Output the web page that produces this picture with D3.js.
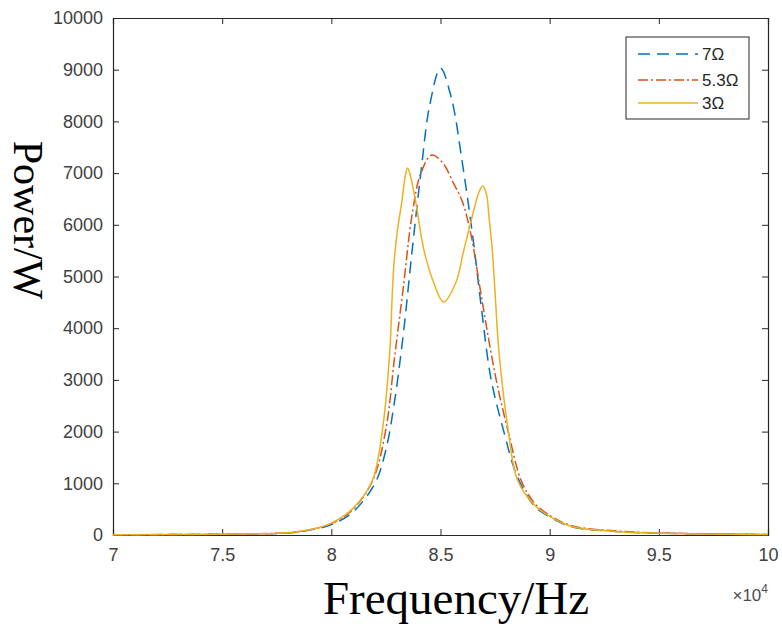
<!DOCTYPE html>
<html>
<head>
<meta charset="utf-8">
<script src="https://cdn.jsdelivr.net/npm/d3@7"></script>
<style>
  body { margin: 0; background: #fff; }
  .tick text { font-family: Arial, "Liberation Sans", sans-serif; font-size: 18px; fill: #404040; }
</style>
</head>
<body>
<div id="chart"></div>
<script>
// frequency (x10^4 Hz) and power (W)
const freq7 = [7.0, 7.5, 7.8, 7.9, 8.0, 8.1, 8.2, 8.25, 8.29, 8.33, 8.37, 8.41, 8.45, 8.5, 8.55, 8.6, 8.65, 8.69, 8.73, 8.79, 8.85, 8.93, 9.0, 9.1, 9.3, 9.5, 10.0];
const power7 = [5, 15, 40, 95, 200, 450, 1000, 1650, 2600, 3900, 5500, 7000, 8300, 9030, 8450, 7200, 5700, 4300, 3050, 2000, 1150, 560, 350, 160, 70, 35, 10];

const freq53 = [7.0, 7.5, 7.8, 7.9, 8.0, 8.1, 8.19, 8.25, 8.29, 8.33, 8.37, 8.41, 8.46, 8.51, 8.56, 8.6, 8.64, 8.68, 8.72, 8.76, 8.81, 8.87, 8.93, 9.0, 9.1, 9.3, 9.5, 10.0];
const power53 = [5, 15, 45, 100, 220, 500, 1060, 2050, 3450, 4800, 6200, 7000, 7350, 7200, 6800, 6450, 5800, 4800, 3800, 2900, 2000, 1050, 620, 380, 180, 80, 40, 10];

const freq3 = [7.0, 7.5, 7.8, 7.9, 8.0, 8.1, 8.188, 8.234, 8.268, 8.278, 8.286, 8.301, 8.324, 8.337, 8.349, 8.362, 8.385, 8.424, 8.47, 8.514, 8.569, 8.607, 8.645, 8.675, 8.693, 8.71, 8.722, 8.737, 8.752, 8.767, 8.81, 8.853, 8.93, 9.0, 9.1, 9.3, 9.5, 10.0];
const power3 = [5, 15, 45, 100, 230, 520, 1060, 2030, 3578, 4545, 5190, 5840, 6480, 6900, 7100, 6950, 6480, 5513, 4868, 4507, 4868, 5513, 6157, 6620, 6750, 6600, 6157, 5513, 4545, 3578, 2030, 1060, 580, 360, 165, 70, 35, 10];

const seriesNames = ['7Ω', '5.3Ω', '3Ω'];
const xTicks = [7, 7.5, 8, 8.5, 9, 9.5, 10];
const yTicks = [0, 1000, 2000, 3000, 4000, 5000, 6000, 7000, 8000, 9000, 10000];

const series = [
  { name: seriesNames[0], f: freq7, p: power7, color: '#0072BD', dash: '12,7' },
  { name: seriesNames[1], f: freq53, p: power53, color: '#D95319', dash: '10,3,2,3' },
  { name: seriesNames[2], f: freq3, p: power3, color: '#EDB120', dash: null }
];

const W = 782, H = 627;
const margin = { top: 18, right: 14, bottom: 92, left: 113 };
const width = W - margin.left - margin.right;
const height = H - margin.top - margin.bottom;

const svg = d3.select('#chart')
  .append('svg')
  .attr('width', W)
  .attr('height', H);

const g = svg.append('g')
  .attr('transform', `translate(${margin.left},${margin.top})`);

const x = d3.scaleLinear().domain([7, 10]).range([0, width]);
const y = d3.scaleLinear().domain([0, 10000]).range([height, 0]);

const axisColor = '#262626';

// axes with inward ticks (matlab style)
const xAxis = g.append('g')
  .attr('transform', `translate(0,${height})`)
  .call(d3.axisBottom(x).tickValues(xTicks).tickSize(-6).tickPadding(13).tickFormat(d3.format('')));
const yAxis = g.append('g')
  .call(d3.axisLeft(y).tickValues(yTicks).tickSize(-6).tickPadding(10).tickFormat(d3.format('')));
const xTop = g.append('g')
  .call(d3.axisTop(x).tickValues(xTicks).tickSize(-6).tickFormat(''));
const yRight = g.append('g')
  .attr('transform', `translate(${width},0)`)
  .call(d3.axisRight(y).tickValues(yTicks).tickSize(-6).tickFormat(''));

[xAxis, yAxis, xTop, yRight].forEach(a => {
  a.select('.domain').attr('stroke', axisColor).attr('stroke-width', 1.2);
  a.selectAll('.tick line').attr('stroke', axisColor);
});

// curves
const line = d3.line()
  .x(d => x(d[0]))
  .y(d => y(d[1]))
  .curve(d3.curveCatmullRom.alpha(0.5));

series.forEach(s => {
  g.append('path')
    .datum(s.f.map((f, i) => [f, s.p[i]]))
    .attr('fill', 'none')
    .attr('stroke', s.color)
    .attr('stroke-width', 1.5)
    .attr('stroke-dasharray', s.dash)
    .attr('d', line);
});

// legend
const legend = svg.append('g').attr('transform', 'translate(626,37)');
legend.append('rect')
  .attr('width', 123)
  .attr('height', 82)
  .attr('fill', '#fff')
  .attr('stroke', axisColor)
  .attr('stroke-width', 1);

const legendRows = [17, 43, 66];
series.forEach((s, i) => {
  legend.append('line')
    .attr('x1', 12).attr('x2', 72)
    .attr('y1', legendRows[i]).attr('y2', legendRows[i])
    .attr('stroke', s.color)
    .attr('stroke-width', 1.5)
    .attr('stroke-dasharray', s.dash);
  legend.append('text')
    .attr('x', 76)
    .attr('y', legendRows[i])
    .attr('dy', '0.35em')
    .style('font-family', 'Arial, "Liberation Sans", sans-serif')
    .style('font-size', '17px')
    .style('fill', '#262626')
    .text(s.name);
});

// x10^4 exponent label
const expo = svg.append('text')
  .attr('x', 768)
  .attr('y', 601)
  .attr('text-anchor', 'end')
  .style('font-family', 'Arial, "Liberation Sans", sans-serif')
  .style('font-size', '17px')
  .style('fill', '#4d4d4d');
expo.append('tspan').text('×10');
expo.append('tspan').attr('dy', -8).style('font-size', '12px').text('4');

// axis labels
svg.append('text')
  .attr('x', 456)
  .attr('y', 614)
  .attr('text-anchor', 'middle')
  .style('font-family', '"Liberation Serif", "Times New Roman", serif')
  .style('font-size', '47px')
  .style('fill', '#000')
  .text('Frequency/Hz');

svg.append('text')
  .attr('transform', 'translate(14,220) rotate(90)')
  .attr('text-anchor', 'middle')
  .style('font-family', '"Liberation Serif", "Times New Roman", serif')
  .style('font-size', '42px')
  .style('fill', '#000')
  .text('Power/W');
</script>
</body>
</html>
